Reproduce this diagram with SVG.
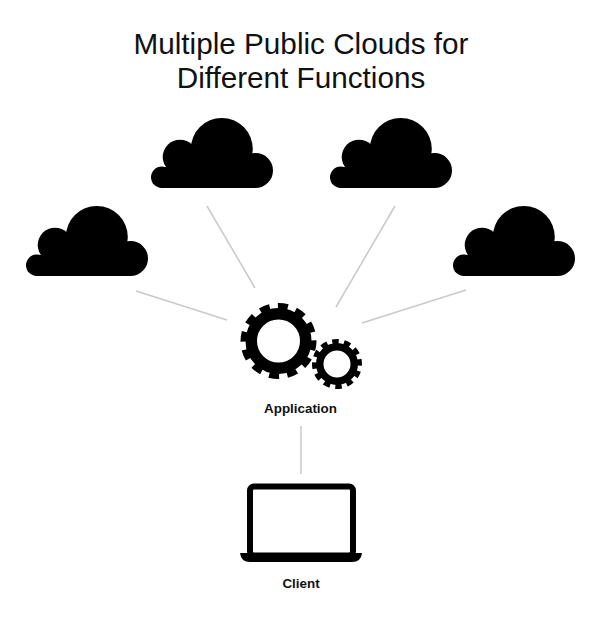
<svg xmlns="http://www.w3.org/2000/svg" width="600" height="626" viewBox="0 0 600 626">
<style>
.title{font:29.700px "Liberation Sans",Arial,sans-serif;fill:#111;text-anchor:middle}
.label{font:bold 13.400px "Liberation Sans",Arial,sans-serif;fill:#111;text-anchor:middle}
.link{stroke:#c9c9c9;stroke-width:1.5;fill:none}
</style>
<defs>
<g id="cloud" fill="#000">
<circle cx="70.800" cy="31" r="31"/>
<circle cx="29" cy="39" r="17.300"/>
<circle cx="104.500" cy="52.500" r="17.500"/>
<circle cx="10.700" cy="59.300" r="10.700"/>
<rect x="10.700" y="49" width="94" height="21"/>
<rect x="29" y="35" width="70" height="20"/>
</g>
</defs>
<rect width="600" height="626" fill="#fff"/>
<text class="title" x="301" y="54">Multiple Public Clouds for</text>
<text class="title" x="301" y="88">Different Functions</text>
<g id="connectors">
<line class="link" x1="136" y1="291" x2="227" y2="320"/>
<line class="link" x1="207" y1="206" x2="255" y2="288"/>
<line class="link" x1="395" y1="206" x2="336" y2="307"/>
<line class="link" x1="466" y1="290" x2="362" y2="323"/>
<line class="link" x1="301" y1="426" x2="301" y2="474"/>
</g>
<g id="cloud1"><use href="#cloud" x="26" y="206"/></g>
<g id="cloud2"><use href="#cloud" x="151" y="118"/></g>
<g id="cloud3"><use href="#cloud" x="330" y="118"/></g>
<g id="cloud4"><use href="#cloud" x="453" y="206"/></g>
<g id="application">
<circle cx="278.500" cy="341" r="27.250" fill="none" stroke="#000" stroke-width="11.500"/>
<circle cx="278.500" cy="341" r="35" fill="none" stroke="#000" stroke-width="6" pathLength="12" stroke-dasharray="0.55 0.45" transform="rotate(-1 278.500 341)"/>
<circle cx="337" cy="364" r="17.250" fill="none" stroke="#000" stroke-width="7.500"/>
<circle cx="337" cy="364" r="22.500" fill="none" stroke="#000" stroke-width="5" pathLength="12" stroke-dasharray="0.55 0.45" transform="rotate(-12 337 364)"/>
<text class="label" x="300.500" y="413">Application</text>
</g>
<g id="client">
<rect x="250" y="486.500" width="103" height="69" rx="4" fill="none" stroke="#000" stroke-width="6"/>
<path d="M240 553H362Q361 562 352 562H250Q241 562 240 553Z" fill="#000"/>
<text class="label" x="301" y="588">Client</text>
</g>
</svg>
